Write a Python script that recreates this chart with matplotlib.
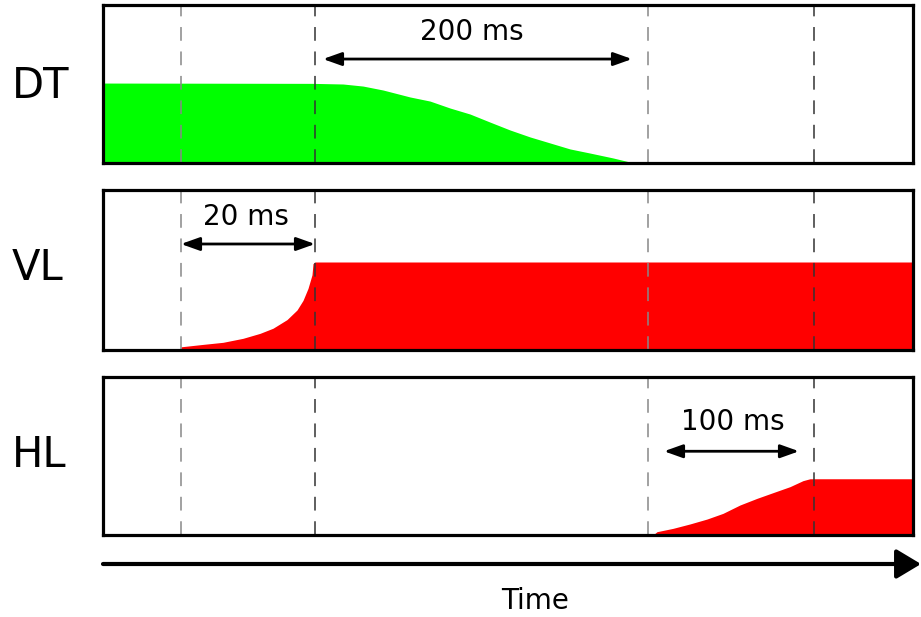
import numpy as np
import matplotlib
matplotlib.use('Agg')
import matplotlib.pyplot as plt

# schematic time axis (arbitrary units, panel spans 0..810)
x_max = 810
event_x = [78, 212, 545, 711]
event_colors = ['#888888', '#333333', '#888888', '#333333']

# DT: green, holds then decays over ~200 ms
dt_x = [0, 210, 240, 260, 280, 307, 327, 347, 367, 387, 407, 427, 447, 467,
        487, 510, 527, 537, 810]
dt_y = [0.506, 0.504, 0.500, 0.487, 0.462, 0.418, 0.392, 0.348, 0.310, 0.259,
        0.209, 0.165, 0.127, 0.089, 0.063, 0.032, 0.006, 0.0, 0.0]

# VL: red, fast rise over 20 ms then hold
vl_x = [78, 100, 120, 140, 157, 170, 184, 194, 200, 205, 209, 210, 212, 810]
vl_y = [0.02, 0.035, 0.048, 0.073, 0.104, 0.136, 0.19, 0.25, 0.31, 0.385,
        0.47, 0.54, 0.55, 0.55]

# HL: red, slow ramp over 100 ms then hold
hl_x = [0, 550, 554, 570, 587, 604, 620, 637, 654, 670, 687, 700, 707, 810]
hl_y = [0.0, 0.0, 0.021, 0.042, 0.070, 0.101, 0.137, 0.19, 0.232, 0.268,
        0.306, 0.344, 0.356, 0.356]

labels = ['DT', 'VL', 'HL']
label_y = [86, 268, 455]
spans = ['200 ms', '20 ms', '100 ms']
span_arrows = [(220, 529, 0.658), (78, 212, 0.6625), (561, 696, 0.53)]
span_text = [(369, 0.83), (143, 0.83), (630, 0.715)]

fig = plt.figure(figsize=(9.21, 6.17), dpi=100)
W, H = 921, 617
boxes = [(5, 163), (190, 350), (377, 535)]
curves = [(dt_x, dt_y, '#00ff00'), (vl_x, vl_y, '#ff0000'), (hl_x, hl_y, '#ff0000')]

for i, (top, bot) in enumerate(boxes):
    ax = fig.add_axes([103 / W, 1 - bot / H, 810 / W, (bot - top) / H])
    cx, cy, col = curves[i]
    ax.fill_between(cx, 0, cy, color=col, lw=0, zorder=1)
    for ex, ec in zip(event_x, event_colors):
        ax.axvline(ex, color=ec, lw=1.1, dashes=(9, 7), zorder=2)
    x0, x1, ya = span_arrows[i]
    ax.annotate('', xy=(x1, ya), xytext=(x0, ya),
                arrowprops=dict(arrowstyle='<|-|>,head_length=0.7,head_width=0.25',
                                color='black', lw=2, mutation_scale=16,
                                shrinkA=0, shrinkB=0))
    tx, ty = span_text[i]
    ax.text(tx, ty, spans[i], fontsize=20, ha='center', va='center')
    ax.set_xlim(0, x_max)
    ax.set_ylim(0, 1)
    ax.set_xticks([])
    ax.set_yticks([])
    for s in ax.spines.values():
        s.set_linewidth(2.3)
        s.set_zorder(5)
    fig.text(12 / W, 1 - label_y[i] / H, labels[i], fontsize=30,
             ha='left', va='center')

# time arrow
fig.patches.append(matplotlib.patches.FancyArrowPatch(
    (103 / W, 1 - 564 / H), (921 / W, 1 - 564 / H), transform=fig.transFigure,
    arrowstyle='-|>,head_length=0.5,head_width=0.3', mutation_scale=30, lw=3,
    color='black', shrinkA=0, shrinkB=0))
fig.text(535 / W, 1 - 601 / H, 'Time', fontsize=20, ha='center', va='center')

fig.savefig('out.png', dpi=100)
